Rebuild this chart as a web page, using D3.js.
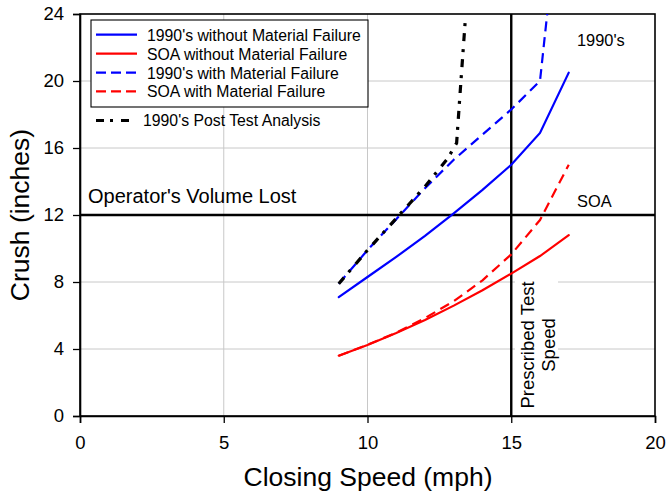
<!DOCTYPE html>
<html>
<head>
<meta charset="utf-8">
<script src="https://cdn.jsdelivr.net/npm/d3@7/dist/d3.min.js"></script>
<style>
  html, body { margin: 0; padding: 0; background: #fff; }
  svg { display: block; font-family: "Liberation Sans", Arial, sans-serif; }
</style>
</head>
<body>
<svg id="chart" width="667" height="496"></svg>
<script>
// ---------- data ----------
const speed1990 = [9, 10, 11, 12, 13, 14, 15, 16, 17];
const crush1990 = [7.1, 8.3, 9.5, 10.75, 12.1, 13.5, 15.0, 16.9, 20.5];

const speedSOA = [9, 10, 11, 12, 13, 14, 15, 16, 17];
const crushSOA = [3.6, 4.24, 4.95, 5.73, 6.59, 7.51, 8.5, 9.55, 10.8];

const speed1990MF = [9, 10, 11, 12, 13, 14, 15, 16, 16.25];
const crush1990MF = [7.9, 9.9, 11.75, 13.6, 15.3, 16.8, 18.3, 20.0, 24];

const speedSOAMF = [9, 10, 11, 12, 13, 14, 15, 16, 17];
const crushSOAMF = [3.6, 4.25, 4.97, 5.85, 6.85, 8.1, 9.65, 11.7, 15.0];

const speedPost = [9, 10, 11, 12, 12.8, 13.1, 13.25, 13.4];
const crushPost = [7.9, 9.9, 11.8, 13.7, 15.4, 16.3, 20.0, 23.6];

const xTicks = [0, 5, 10, 15, 20];
const yTicks = [0, 4, 8, 12, 16, 20, 24];

const volumeLost = 12;
const testSpeed = 15;

const seriesNames = [
  "1990's without Material Failure",
  "SOA without Material Failure",
  "1990's with Material Failure",
  "SOA with Material Failure",
  "1990's Post Test Analysis"
];

// ---------- layout ----------
const svg = d3.select("#chart");
const x = d3.scaleLinear().domain([0, 20]).range([80, 655]);
const y = d3.scaleLinear().domain([0, 24]).range([416, 14]);

const series = [
  { name: seriesNames[0], xs: speed1990, ys: crush1990, color: "#0000ff", dash: null, w: 2.2 },
  { name: seriesNames[1], xs: speedSOA, ys: crushSOA, color: "#ff0000", dash: null, w: 2.2 },
  { name: seriesNames[2], xs: speed1990MF, ys: crush1990MF, color: "#0000ff", dash: "10,6", w: 2.2 },
  { name: seriesNames[3], xs: speedSOAMF, ys: crushSOAMF, color: "#ff0000", dash: "10,6", w: 2.2 },
  { name: seriesNames[4], xs: speedPost, ys: crushPost, color: "#000000", dash: "8,7,3,8", w: 3.2 }
];

// grid
svg.append("g").selectAll("line.gx")
  .data(xTicks.filter(t => t > 0 && t < 20))
  .join("line")
  .attr("x1", d => x(d)).attr("x2", d => x(d))
  .attr("y1", y(0)).attr("y2", y(24))
  .attr("stroke", "#c8c8c8").attr("stroke-width", 1);
svg.append("g").selectAll("line.gy")
  .data(yTicks.filter(t => t > 0 && t < 24))
  .join("line")
  .attr("x1", x(0)).attr("x2", x(20))
  .attr("y1", d => y(d)).attr("y2", d => y(d))
  .attr("stroke", "#c8c8c8").attr("stroke-width", 1);

// white background behind the rotated annotation
svg.append("rect")
  .attr("x", 515).attr("y", 276).attr("width", 43).attr("height", 139)
  .attr("fill", "#fff");

// frame
svg.append("rect")
  .attr("x", x(0)).attr("y", y(24))
  .attr("width", x(20) - x(0)).attr("height", y(0) - y(24))
  .attr("fill", "none").attr("stroke", "#000").attr("stroke-width", 1.6);

// axes
const xAxis = d3.axisBottom(x).tickValues(xTicks).tickSize(7).tickPadding(13).tickFormat(d3.format("d"));
const yAxis = d3.axisLeft(y).tickValues(yTicks).tickSize(7).tickPadding(9).tickFormat(d3.format("d"));
const gx = svg.append("g").attr("transform", `translate(0,${y(0)})`).call(xAxis);
const gy = svg.append("g").attr("transform", `translate(${x(0)},0)`).call(yAxis);
[gx, gy].forEach(g => {
  g.select(".domain").attr("stroke", "#000").attr("stroke-width", 1.6);
  g.selectAll(".tick line").attr("stroke", "#000").attr("stroke-width", 1.3);
  g.selectAll(".tick text").attr("fill", "#000")
    .style("font-family", '"Liberation Sans", Arial, sans-serif').style("font-size", "18.5px");
});

// reference lines
svg.append("line")
  .attr("x1", x(0)).attr("x2", x(20))
  .attr("y1", y(volumeLost)).attr("y2", y(volumeLost))
  .attr("stroke", "#000").attr("stroke-width", 2.4);
svg.append("line")
  .attr("x1", x(testSpeed)).attr("x2", x(testSpeed))
  .attr("y1", y(0)).attr("y2", y(24))
  .attr("stroke", "#000").attr("stroke-width", 2.4);

// series
const line = d3.line().x(d => x(d[0])).y(d => y(d[1]));
series.forEach(s => {
  const pts = s.xs.map((v, i) => [v, s.ys[i]]);
  svg.append("path")
    .attr("d", line(pts))
    .attr("fill", "none")
    .attr("stroke", s.color)
    .attr("stroke-width", s.w)
    .attr("stroke-dasharray", s.dash)
    .attr("stroke-linecap", s.dash ? "butt" : "round");
});

// legend
svg.append("rect")
  .attr("x", 91).attr("y", 20).attr("width", 277).attr("height", 87)
  .attr("fill", "#fff").attr("stroke", "#000").attr("stroke-width", 1.1);
const legendY = [34.7, 53.7, 72.7, 91.3, 120.5];
series.forEach((s, i) => {
  const ly = legendY[i];
  const x2 = i === 4 ? 131 : 137;
  svg.append("line")
    .attr("x1", 96).attr("x2", x2).attr("y1", ly).attr("y2", ly)
    .attr("stroke", s.color).attr("stroke-width", s.w)
    .attr("stroke-dasharray", i === 4 ? "8,6,3,8" : (s.dash ? "10,5" : null));
  svg.append("text")
    .attr("x", i === 4 ? 143 : 147).attr("y", ly + 5.8)
    .attr("font-size", 15.8).attr("fill", "#000")
    .text(s.name);
});

// annotations
svg.append("text").attr("x", 577).attr("y", 45.7).attr("font-size", 16.4).text("1990's");
svg.append("text").attr("x", 577).attr("y", 206.7).attr("font-size", 16.4).text("SOA");
svg.append("text").attr("x", 88).attr("y", 203.3).attr("font-size", 20).text("Operator's Volume Lost");

const pt = svg.append("text")
  .attr("transform", "translate(533.5,345) rotate(-90)")
  .attr("text-anchor", "middle").attr("font-size", 18.5);
pt.append("tspan").attr("x", 0).attr("y", 0).text("Prescribed Test");
pt.append("tspan").attr("x", 0).attr("y", 21.5).text("Speed");

// axis titles
svg.append("text")
  .attr("x", 368).attr("y", 486)
  .attr("text-anchor", "middle").attr("font-size", 26.5)
  .text("Closing Speed (mph)");
svg.append("text")
  .attr("transform", "translate(29,215) rotate(-90)")
  .attr("text-anchor", "middle").attr("font-size", 26.5)
  .text("Crush (inches)");
</script>
</body>
</html>
